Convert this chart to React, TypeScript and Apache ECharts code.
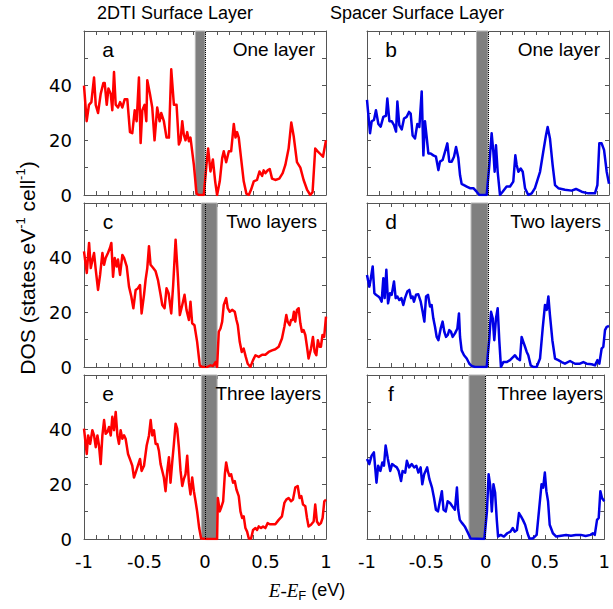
import React, { useEffect, useRef } from "react";
import * as echarts from "echarts";

// ---------- data ----------
const panelLetters = ["a", "b", "c", "d", "e", "f"];
const panelNotes = ["One layer", "One layer", "Two layers", "Two layers", "Three layers", "Three layers"];
const columnTitles = ["2DTI Surface Layer", "Spacer Surface Layer"];
const xTickLabels = ["-1", "-0.5", "0", "0.5", "1"];
const yTickValues = [0, 20, 40];
const yTickLabels = ["0", "20", "40"];

// gap (gray band) limits in eV for each panel
const gapA = [-0.08, 0];
const gapB = [-0.095, 0];
const gapC = [-0.03, 0.1];
const gapD = [-0.14, 0];
const gapE = [-0.03, 0.1];
const gapF = [-0.14, 0];

const dosA = [[-1,40],[-0.978,27],[-0.959,33],[-0.939,34],[-0.917,43],[-0.903,33],[-0.884,30],[-0.862,37],[-0.84,41],[-0.829,41],[-0.812,33],[-0.798,39],[-0.779,37],[-0.766,31],[-0.752,45],[-0.738,33],[-0.719,32],[-0.702,34],[-0.683,32],[-0.664,35],[-0.642,35],[-0.62,23],[-0.601,22.6],[-0.581,31],[-0.565,27],[-0.546,43],[-0.532,19],[-0.518,31],[-0.499,33],[-0.485,27],[-0.477,42],[-0.455,37],[-0.436,32],[-0.417,20],[-0.395,32],[-0.375,27],[-0.362,30],[-0.34,27],[-0.318,21],[-0.298,21],[-0.279,46],[-0.257,33],[-0.235,33],[-0.216,18.5],[-0.202,20],[-0.188,27],[-0.175,22],[-0.161,20],[-0.147,23],[-0.133,19.7],[-0.12,21],[-0.092,11],[-0.07,0.5],[-0.051,0],[-0.01,0],[0.012,11],[0.026,17],[0.045,8.6],[0.065,13],[0.084,5],[0.1,0],[0.122,5],[0.142,13.5],[0.155,16],[0.175,12],[0.197,16],[0.216,16],[0.238,26],[0.252,21],[0.265,23],[0.279,21],[0.298,13.5],[0.32,5],[0.342,0.5],[0.362,0],[0.381,2],[0.403,5],[0.43,5.5],[0.45,8.6],[0.472,7],[0.485,9],[0.499,8],[0.518,9],[0.535,9.5],[0.554,6],[0.581,5.5],[0.614,6],[0.642,8],[0.664,11],[0.691,17],[0.713,26.5],[0.733,21.5],[0.76,12],[0.788,10],[0.815,5.5],[0.843,2],[0.87,0],[0.889,1],[0.911,17],[0.931,16],[0.953,15],[0.975,14],[1,20]];

const dosB = [[-1,34.8],[-0.975,22.6],[-0.961,27],[-0.942,27.5],[-0.926,31],[-0.906,26],[-0.887,25],[-0.865,28.6],[-0.843,29],[-0.832,35.3],[-0.815,27],[-0.796,27],[-0.777,25.6],[-0.76,23.2],[-0.749,34.2],[-0.733,25.6],[-0.713,24],[-0.694,28],[-0.672,28.6],[-0.653,30.4],[-0.639,29.8],[-0.623,21.8],[-0.603,20.7],[-0.584,26],[-0.567,24.9],[-0.548,37.9],[-0.534,14.5],[-0.521,27],[-0.507,21.3],[-0.493,15.2],[-0.474,15.2],[-0.452,14.5],[-0.43,14],[-0.41,9.1],[-0.397,12.2],[-0.375,12.8],[-0.355,15.9],[-0.336,18.9],[-0.32,12.2],[-0.3,12.2],[-0.281,14],[-0.264,17.6],[-0.245,13.5],[-0.231,7.2],[-0.218,4.1],[-0.198,3.6],[-0.176,3.1],[-0.149,2.5],[-0.121,2.5],[-0.094,1.2],[-0.072,0],[-0.011,0],[0.011,11],[0.03,22.6],[0.044,15.9],[0.055,8.5],[0.066,18.2],[0.08,8.5],[0.099,0],[0.121,1.2],[0.154,3.1],[0.182,3.1],[0.209,4.9],[0.226,14.5],[0.237,11],[0.251,8.5],[0.27,9.7],[0.287,8.5],[0.306,2.5],[0.333,0],[0.361,0.6],[0.388,2.5],[0.43,8.5],[0.457,15.9],[0.479,21.8],[0.493,24.9],[0.512,20.7],[0.534,11],[0.554,3.6],[0.581,2.5],[0.636,1.9],[0.691,1.6],[0.727,2.2],[0.774,1.2],[0.829,0.6],[0.884,0.6],[0.904,3.6],[0.92,18.9],[0.939,18.9],[0.959,16.5],[0.981,8.5],[1,4.1]];

const dosC = [[-1,42.3],[-0.977,34.4],[-0.958,45.4],[-0.944,36.2],[-0.931,39],[-0.917,41.7],[-0.903,35.6],[-0.884,28.2],[-0.867,33.7],[-0.848,41.7],[-0.834,37.4],[-0.821,39.9],[-0.802,41.7],[-0.785,43.6],[-0.774,45.4],[-0.76,33],[-0.746,39.9],[-0.73,36.8],[-0.719,39.3],[-0.702,33.7],[-0.683,41],[-0.669,39.9],[-0.647,36.8],[-0.628,29.4],[-0.609,25.8],[-0.592,21.5],[-0.573,28.2],[-0.554,28.8],[-0.537,30],[-0.524,19.6],[-0.504,26.4],[-0.491,31.9],[-0.477,36.2],[-0.463,44.2],[-0.45,37.4],[-0.428,36.2],[-0.408,35],[-0.389,31.9],[-0.367,26.4],[-0.353,22.7],[-0.334,21.5],[-0.318,28.8],[-0.301,27],[-0.279,19.6],[-0.263,30],[-0.243,46.6],[-0.224,33],[-0.208,19],[-0.188,22.7],[-0.169,26.4],[-0.153,20.9],[-0.133,17.2],[-0.12,23.9],[-0.106,16],[-0.087,15.3],[-0.065,9.2],[-0.043,0.6],[-0.023,0],[0.018,0],[0.045,0.6],[0.067,0.4],[0.087,1.8],[0.1,0],[0.114,12.9],[0.128,14.1],[0.142,16.6],[0.155,22.7],[0.175,25.2],[0.188,21.5],[0.205,20.2],[0.224,20.9],[0.246,20.2],[0.26,17.2],[0.271,15.3],[0.287,9.2],[0.304,5.5],[0.32,6.7],[0.337,3.7],[0.353,1.2],[0.375,0],[0.397,2.5],[0.417,4.3],[0.444,3.7],[0.472,4.5],[0.499,4.5],[0.526,5.5],[0.554,6.1],[0.581,6.5],[0.609,7.4],[0.636,10.4],[0.656,14.7],[0.672,19],[0.683,16.6],[0.7,15.3],[0.711,17.2],[0.724,17.2],[0.735,20.2],[0.746,16.6],[0.76,20.9],[0.774,21.5],[0.788,16],[0.801,12.9],[0.815,13.5],[0.829,11.7],[0.843,7.4],[0.856,3.1],[0.876,6.7],[0.892,11],[0.906,5.5],[0.92,4.3],[0.933,9.8],[0.947,7.4],[0.958,7.4],[0.971,11.7],[0.985,11],[1,18.4]];

const dosD = [[-1,33.7],[-0.981,29.4],[-0.97,31.9],[-0.953,36.8],[-0.939,27],[-0.926,26.4],[-0.906,25.8],[-0.893,25.2],[-0.879,23.9],[-0.865,32.5],[-0.854,25.2],[-0.84,35.6],[-0.826,23.3],[-0.81,27],[-0.796,26.4],[-0.777,31.3],[-0.763,25.2],[-0.749,25.8],[-0.733,24.5],[-0.716,25.2],[-0.7,22.7],[-0.686,25.2],[-0.667,27.6],[-0.65,28.2],[-0.636,25.2],[-0.623,25.8],[-0.612,23.9],[-0.595,26.4],[-0.576,26.6],[-0.556,23.9],[-0.54,20.2],[-0.526,16.6],[-0.512,25.8],[-0.496,26.4],[-0.479,22.1],[-0.466,22.7],[-0.452,17.8],[-0.438,14.7],[-0.424,11],[-0.41,9.8],[-0.391,14.1],[-0.375,16.6],[-0.361,12.9],[-0.347,11],[-0.333,11.7],[-0.32,13.5],[-0.306,12.9],[-0.292,11],[-0.273,12.3],[-0.253,14.1],[-0.24,19.6],[-0.231,11],[-0.218,6.1],[-0.198,4.3],[-0.176,3.1],[-0.154,1.2],[-0.135,0.4],[-0.107,0],[-0.011,0],[0.011,10.4],[0.025,20.2],[0.039,17.8],[0.052,9.8],[0.066,17.8],[0.08,21.5],[0.094,9.2],[0.107,0],[0.127,1.8],[0.154,1.8],[0.182,2.5],[0.209,3.7],[0.223,4.3],[0.242,3.1],[0.264,2.5],[0.278,11],[0.292,9.2],[0.306,7.4],[0.32,5.5],[0.333,4.3],[0.353,0.6],[0.375,0],[0.402,0],[0.43,3.1],[0.452,14.1],[0.471,22.7],[0.485,20.9],[0.499,25.8],[0.512,19],[0.532,9.8],[0.554,3.1],[0.581,2.5],[0.609,1.8],[0.636,1.2],[0.678,2.2],[0.719,1.2],[0.76,1.2],[0.788,1.8],[0.815,1.2],[0.857,1],[0.884,0.6],[0.904,2.5],[0.92,1.2],[0.939,6.7],[0.953,7.4],[0.967,13.5],[0.981,14.7],[1,15]];

const dosE = [[-1,40.4],[-0.977,31.1],[-0.966,37.9],[-0.949,34.8],[-0.931,39.8],[-0.917,37.9],[-0.903,33.6],[-0.889,37.9],[-0.876,34.2],[-0.862,27.4],[-0.848,37.9],[-0.834,43.5],[-0.821,38.5],[-0.807,39.1],[-0.793,41],[-0.779,37.9],[-0.766,44.7],[-0.752,39.8],[-0.738,46.5],[-0.724,37.9],[-0.711,34.8],[-0.697,39.8],[-0.683,36.7],[-0.669,37.9],[-0.656,36.7],[-0.636,31.1],[-0.615,28.6],[-0.601,26.8],[-0.587,22.5],[-0.573,24.3],[-0.559,26.2],[-0.537,29.3],[-0.524,24.9],[-0.504,26.8],[-0.482,34.2],[-0.463,37.9],[-0.449,43.5],[-0.436,37.9],[-0.422,39.8],[-0.408,34.8],[-0.394,34.8],[-0.381,32.3],[-0.367,27.4],[-0.353,24.9],[-0.34,22.5],[-0.326,17.5],[-0.312,24.9],[-0.298,29.9],[-0.285,20.6],[-0.271,28],[-0.257,34.8],[-0.243,42.2],[-0.23,40.4],[-0.216,33.6],[-0.202,24.9],[-0.188,19.4],[-0.175,21.9],[-0.161,23.7],[-0.147,30.5],[-0.133,20.6],[-0.12,16.3],[-0.106,22.5],[-0.092,17.5],[-0.078,13.8],[-0.065,10.1],[-0.048,4],[-0.032,0.2],[0.018,0],[0.1,0],[0.106,15],[0.122,10.1],[0.133,11.4],[0.15,13.8],[0.164,23.7],[0.175,28],[0.188,24.9],[0.202,23.1],[0.216,23.7],[0.232,20.6],[0.246,21.2],[0.26,18.1],[0.279,15.7],[0.293,10.1],[0.307,7.7],[0.32,8.3],[0.334,4],[0.348,2.7],[0.362,0.2],[0.381,0.2],[0.397,3.3],[0.417,4],[0.43,3.3],[0.444,4.6],[0.463,4],[0.48,4.6],[0.499,4],[0.518,5.8],[0.535,5.4],[0.554,5.4],[0.581,5.4],[0.609,7],[0.636,8.3],[0.656,13.2],[0.672,14.4],[0.691,15],[0.711,13.8],[0.727,14.4],[0.746,18.8],[0.766,19.4],[0.782,15],[0.796,15.7],[0.81,12.6],[0.829,12],[0.843,7.7],[0.856,4.6],[0.876,5.2],[0.898,6.4],[0.911,12.6],[0.925,6.4],[0.942,5.2],[0.958,5.8],[0.972,7.7],[0.986,13.8],[1,14.4]];

const dosF = [[-1,29.3],[-0.981,27.4],[-0.961,30.5],[-0.942,31.7],[-0.92,20.6],[-0.906,26.8],[-0.887,24.9],[-0.871,28],[-0.857,26.8],[-0.843,34.2],[-0.824,29.3],[-0.804,24.9],[-0.788,27.4],[-0.769,26.8],[-0.749,26.2],[-0.733,24.9],[-0.713,21.2],[-0.7,24.9],[-0.678,24.3],[-0.664,28.6],[-0.645,26.2],[-0.623,27.4],[-0.603,26.2],[-0.584,26.8],[-0.567,24.3],[-0.548,26.2],[-0.534,20],[-0.518,23.7],[-0.493,26.2],[-0.474,21.9],[-0.452,18.8],[-0.435,15],[-0.419,10.7],[-0.402,10.1],[-0.383,14.4],[-0.369,17.5],[-0.355,10.7],[-0.336,10.1],[-0.32,13.8],[-0.3,13.2],[-0.281,12],[-0.259,10.7],[-0.242,18.8],[-0.231,10.7],[-0.218,7],[-0.198,5.8],[-0.176,4.6],[-0.154,2.7],[-0.127,0.2],[-0.011,0],[0.011,10.1],[0.025,23.7],[0.039,19.4],[0.052,10.1],[0.066,20],[0.08,16.9],[0.094,7],[0.105,0.9],[0.127,1.5],[0.154,0.9],[0.182,2.1],[0.209,2.7],[0.229,4],[0.245,2.7],[0.264,3.3],[0.281,9.5],[0.298,8.3],[0.314,7],[0.333,5.2],[0.353,2.1],[0.369,0.2],[0.397,0.2],[0.43,1.5],[0.452,11.4],[0.471,20],[0.485,18.8],[0.499,24.3],[0.512,17.5],[0.526,13.8],[0.54,5.2],[0.567,2.1],[0.595,0.9],[0.636,1.2],[0.678,1.5],[0.719,1.2],[0.76,1.5],[0.802,1.5],[0.843,1.1],[0.884,1.5],[0.904,2.1],[0.92,1.5],[0.939,7],[0.953,7.7],[0.967,17.5],[0.981,15],[1,13.8]];

const panelData = [dosA, dosB, dosC, dosD, dosE, dosF];
const panelGaps = [gapA, gapB, gapC, gapD, gapE, gapF];

// ---------- layout / style ----------
const SANS = "'Liberation Sans', Arial, Helvetica, sans-serif";
const TICKFONT = "'DejaVu Sans', 'Liberation Sans', sans-serif";
const SERIF = "'Liberation Serif', 'Times New Roman', serif";
const colLeft = [84, 367];
const rowTop = [31, 203, 375];
const GW = 242;
const GH = 164;
const noteRight = [315, 600, 317, 601, 321, 603];
const lineColors = ["#ff0000", "#0000e6"];
const frameColor = "#555555";

function xLabel(v: number) {
  const k = Math.round(v * 10);
  if (k % 5 !== 0) return "";
  return xTickLabels[(k + 10) / 5] ?? "";
}
function yLabel(v: number) {
  const k = Math.round(v);
  const idx = yTickValues.indexOf(k);
  return idx >= 0 ? yTickLabels[idx] : "";
}

export default function App() {
  const ref = useRef<HTMLDivElement>(null);
  useEffect(() => {
    if (!ref.current) return;
    const chart = echarts.init(ref.current, undefined, { renderer: "svg" });
    const grids: any[] = [];
    const xAxes: any[] = [];
    const yAxes: any[] = [];
    const series: any[] = [];
    const graphics: any[] = [];

    panelData.forEach((data, i) => {
      const row = Math.floor(i / 2);
      const col = i % 2;
      const left = colLeft[col];
      const top = rowTop[row];
      grids.push({ left, top, width: GW, height: GH, containLabel: false });
      const baseX = {
        gridIndex: i, type: "value", min: -1, max: 1, interval: 0.1,
        axisLine: { show: true, onZero: false, lineStyle: { color: frameColor, width: 1 } },
        axisTick: { show: true, inside: true, length: 4, lineStyle: { color: frameColor, width: 1 } },
        splitLine: { show: false },
      };
      xAxes.push({
        ...baseX, position: "bottom",
        axisLabel: { show: row === 2, interval: 0, formatter: xLabel, fontSize: 18, color: "#000", fontFamily: TICKFONT, margin: 13 },
      });
      xAxes.push({ ...baseX, position: "top", axisLabel: { show: false } });
      const baseY = {
        gridIndex: i, type: "value", min: 0, max: 60, interval: 10,
        axisLine: { show: true, onZero: false, lineStyle: { color: frameColor, width: 1 } },
        axisTick: { show: true, inside: true, length: 4, lineStyle: { color: frameColor, width: 1 } },
        splitLine: { show: false },
      };
      yAxes.push({
        ...baseY, position: "left",
        axisLabel: { show: col === 0, interval: 0, formatter: yLabel, fontSize: 18, color: "#000", fontFamily: TICKFONT, margin: 12 },
      });
      yAxes.push({ ...baseY, position: "right", axisLabel: { show: false } });

      const gap = panelGaps[i];
      series.push({
        type: "line",
        xAxisIndex: 2 * i,
        yAxisIndex: 2 * i,
        data,
        showSymbol: false,
        symbol: "none",
        lineStyle: { color: lineColors[col], width: 2.5, join: "round" },
        z: 3,
        markArea: {
          silent: true,
          itemStyle: { color: "#808080", borderColor: "#b4b4b4", borderWidth: 1 },
          data: [[{ xAxis: gap[0] }, { xAxis: gap[1] }]],
        },
        markLine: {
          silent: true,
          symbol: "none",
          label: { show: false },
          lineStyle: { type: "dotted", color: "#000", width: 1 },
          data: [{ xAxis: 0 }],
        },
      });

      graphics.push({
        type: "text", x: left + 24, y: top + 18, z: 10,
        style: { text: panelLetters[i], font: `21px ${SANS}`, fill: "#000", align: "center", verticalAlign: "middle" },
      });
      graphics.push({
        type: "text", x: noteRight[i], y: top + 18, z: 10,
        style: { text: panelNotes[i], font: `19px ${SANS}`, fill: "#000", align: "right", verticalAlign: "middle" },
      });
    });

    graphics.push({
      type: "text", x: 97, y: 13,
      style: { text: columnTitles[0], font: `18px ${SANS}`, fill: "#000", align: "left", verticalAlign: "middle" },
    });
    graphics.push({
      type: "text", x: 330, y: 13,
      style: { text: columnTitles[1], font: `18px ${SANS}`, fill: "#000", align: "left", verticalAlign: "middle" },
    });
    graphics.push({
      type: "text", x: 27, y: 268, rotation: Math.PI / 2,
      style: {
        text: "{n|DOS (states eV}{s|-1}{n| cell}{s|-1}{n|)}",
        align: "center", verticalAlign: "middle", fill: "#000",
        rich: {
          n: { fontSize: 21, fontFamily: SANS, lineHeight: 26, verticalAlign: "middle", fill: "#000" },
          s: { fontSize: 13, fontFamily: SANS, lineHeight: 13, verticalAlign: "top", fill: "#000" },
        },
      },
    });
    graphics.push({
      type: "text", x: 307, y: 590,
      style: {
        text: "{i|E}{m|-}{i|E}{s|F}{n| (eV)}",
        align: "center", verticalAlign: "middle", fill: "#000",
        rich: {
          i: { fontSize: 19, fontFamily: SERIF, fontStyle: "italic", lineHeight: 24, verticalAlign: "middle", fill: "#000" },
          m: { fontSize: 19, fontFamily: SERIF, lineHeight: 24, verticalAlign: "middle", fill: "#000" },
          n: { fontSize: 18, fontFamily: SANS, lineHeight: 24, verticalAlign: "middle", fill: "#000" },
          s: { fontSize: 13, fontFamily: SANS, lineHeight: 13, verticalAlign: "bottom", fill: "#000" },
        },
      },
    });

    chart.setOption({
      animation: false,
      backgroundColor: "#ffffff",
      grid: grids,
      xAxis: xAxes,
      yAxis: yAxes,
      series,
      graphic: graphics,
    });
    return () => chart.dispose();
  }, []);
  return <div ref={ref} style={{ position: "fixed", left: 0, top: 0, width: 613, height: 609 }} />;
}
